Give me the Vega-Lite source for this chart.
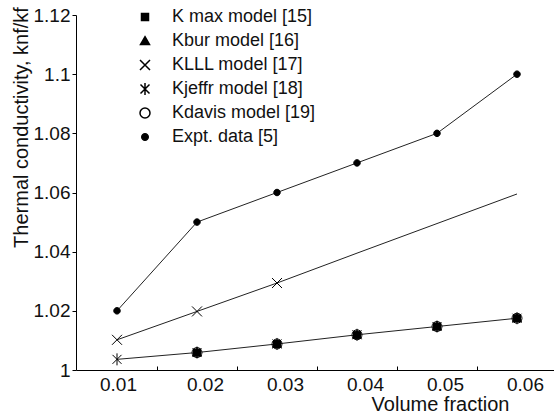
{
  "$schema": "https://vega.github.io/schema/vega-lite/v6.json",
  "width": 478,
  "height": 355,
  "autosize": {"type": "none"},
  "padding": {"left": 76, "top": 15, "right": 0, "bottom": 46},
  "background": "white",
  "config": {
    "view": {"stroke": null},
    "font": "Liberation Sans",
    "axis": {"grid": false, "domainColor": "#000", "tickColor": "#000", "labelColor": "#111", "titleColor": "#111", "labelFont": "Liberation Sans", "titleFont": "Liberation Sans", "titleFontWeight": "normal", "labelFontSize": 19, "titleFontSize": 20},
    "legend": {
      "title": null,
      "orient": "none",
      "legendX": 60,
      "legendY": -7,
      "padding": 0,
      "symbolSize": 100,
      "labelFont": "Liberation Sans",
      "labelFontSize": 18,
      "labelColor": "#111",
      "labelOffset": 18,
      "rowPadding": 6,
      "labelLimit": 300
    }
  },
  "data": {
    "values": [
      {"series": "Expt. data [5]", "x": 0.01, "y": 1.02, "marker": true},
      {"series": "Expt. data [5]", "x": 0.02, "y": 1.05, "marker": true},
      {"series": "Expt. data [5]", "x": 0.03, "y": 1.06, "marker": true},
      {"series": "Expt. data [5]", "x": 0.04, "y": 1.07, "marker": true},
      {"series": "Expt. data [5]", "x": 0.05, "y": 1.08, "marker": true},
      {"series": "Expt. data [5]", "x": 0.06, "y": 1.10, "marker": true},
      {"series": "KLLL model [17]", "x": 0.01, "y": 1.0102, "marker": true},
      {"series": "KLLL model [17]", "x": 0.02, "y": 1.0198, "marker": true},
      {"series": "KLLL model [17]", "x": 0.03, "y": 1.0294, "marker": true},
      {"series": "KLLL model [17]", "x": 0.04, "y": 1.0395, "marker": false},
      {"series": "KLLL model [17]", "x": 0.05, "y": 1.0495, "marker": false},
      {"series": "KLLL model [17]", "x": 0.06, "y": 1.0595, "marker": false},
      {"series": "Kdavis model [19]", "x": 0.02, "y": 1.0059, "marker": true},
      {"series": "Kdavis model [19]", "x": 0.03, "y": 1.0088, "marker": true},
      {"series": "Kdavis model [19]", "x": 0.04, "y": 1.0119, "marker": true},
      {"series": "Kdavis model [19]", "x": 0.05, "y": 1.0147, "marker": true},
      {"series": "Kdavis model [19]", "x": 0.06, "y": 1.0175, "marker": true},
      {"series": "Kjeffr model [18]", "x": 0.01, "y": 1.0036, "marker": true},
      {"series": "Kjeffr model [18]", "x": 0.02, "y": 1.0059, "marker": true},
      {"series": "Kjeffr model [18]", "x": 0.03, "y": 1.0088, "marker": true},
      {"series": "Kjeffr model [18]", "x": 0.04, "y": 1.0119, "marker": true},
      {"series": "Kjeffr model [18]", "x": 0.05, "y": 1.0147, "marker": true},
      {"series": "Kjeffr model [18]", "x": 0.06, "y": 1.0175, "marker": true},
      {"series": "K max model [15]", "x": 0.02, "y": 1.0059, "marker": true},
      {"series": "K max model [15]", "x": 0.03, "y": 1.0088, "marker": true},
      {"series": "K max model [15]", "x": 0.04, "y": 1.0119, "marker": true},
      {"series": "K max model [15]", "x": 0.05, "y": 1.0147, "marker": true},
      {"series": "K max model [15]", "x": 0.06, "y": 1.0175, "marker": true},
      {"series": "Kbur model [16]", "x": 0.02, "y": 1.0059, "marker": true},
      {"series": "Kbur model [16]", "x": 0.03, "y": 1.0088, "marker": true},
      {"series": "Kbur model [16]", "x": 0.04, "y": 1.0119, "marker": true},
      {"series": "Kbur model [16]", "x": 0.05, "y": 1.0147, "marker": true},
      {"series": "Kbur model [16]", "x": 0.06, "y": 1.0175, "marker": true}
    ]
  },
  "encoding": {
    "x": {
      "field": "x", "type": "quantitative",
      "scale": {"domain": [0.004875, 0.064625], "nice": false, "zero": false},
      "axis": {
        "values": [0.01, 0.02, 0.03, 0.04, 0.05, 0.06],
        "format": ".2f",
        "tickOffset": 40,
        "tickSize": -4,
        "labelPadding": 9,
        "labelOffset": {"condition": {"test": "datum.value < 0.015", "value": -39}, "value": -32},
        "title": "Volume fraction",
        "titleX": 364,
        "titleY": 40,
        "titleAlign": "center",
        "titleBaseline": "alphabetic"
      }
    },
    "y": {
      "field": "y", "type": "quantitative",
      "scale": {"domain": [1, 1.12], "nice": false, "zero": false},
      "axis": {
        "values": [1, 1.02, 1.04, 1.06, 1.08, 1.1, 1.12],
        "format": ".3~g",
        "tickSize": 4,
        "labelPadding": 2,
        "title": "Thermal conductivity, knf/kf",
        "titleX": -49,
        "titleY": 112,
        "titleAlign": "center",
        "titleBaseline": "alphabetic",
        "titleAngle": -90
      }
    }
  },
  "layer": [
    {
      "transform": [{"filter": "datum.series !== 'K max model [15]' && datum.series !== 'Kbur model [16]' && datum.series !== 'Kdavis model [19]'"}],
      "mark": {"type": "line", "color": "#222", "strokeWidth": 1},
      "encoding": {"detail": {"field": "series"}}
    },
    {
      "transform": [{"filter": "datum.marker"}],
      "mark": {"type": "point", "filled": true, "stroke": "black", "strokeWidth": 1, "size": 100, "opacity": 1},
      "encoding": {
        "shape": {
          "field": "series", "type": "nominal",
          "scale": {
            "domain": ["K max model [15]", "Kbur model [16]", "KLLL model [17]", "Kjeffr model [18]", "Kdavis model [19]", "Expt. data [5]"],
            "range": [
              "M-0.7,-0.7H0.7V0.7H-0.7Z",
              "M0,-0.85L0.9,0.7H-0.9Z",
              "M-1,-1L1,1M-1,1L1,-1",
              "M0,-1.2V1.2M-0.9,-0.9L0.9,0.9M-0.9,0.9L0.9,-0.9",
              "M1,0A1,1,0,1,1,-1,0A1,1,0,1,1,1,0Z",
              "M0.65,0A0.65,0.65,0,1,1,-0.65,0A0.65,0.65,0,1,1,0.65,0Z"
            ]
          }
        },
        "fill": {
          "field": "series", "type": "nominal",
          "scale": {
            "domain": ["K max model [15]", "Kbur model [16]", "KLLL model [17]", "Kjeffr model [18]", "Kdavis model [19]", "Expt. data [5]"],
            "range": ["black", "black", "transparent", "transparent", "transparent", "black"]
          }
        }
      }
    }
  ]
}
